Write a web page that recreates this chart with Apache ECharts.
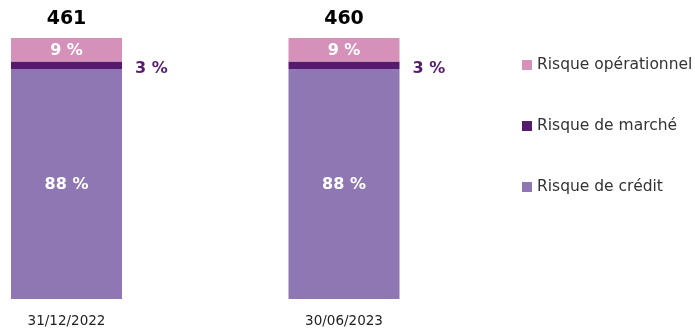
<!DOCTYPE html>
<html><head><meta charset="utf-8">
<script src="https://cdn.jsdelivr.net/npm/echarts@6/dist/echarts.min.js"></script>
<style>html,body{margin:0;padding:0;background:#fff}#c{width:695px;height:328px}</style>
</head><body><div id="c"></div>
<script>
const categories = ['31/12/2022', '30/06/2023'];
const totals = [461, 460];
const credit = [88, 88];
const marche = [3, 3];
const operationnel = [9, 9];

const FONT = 'DejaVu Sans';
const chart = echarts.init(document.getElementById('c'));
chart.setOption({
  animation: false,
  textStyle: { fontFamily: FONT },
  grid: { left: 66.5, right: 351, top: 38, bottom: 28, containLabel: false },
  xAxis: {
    type: 'category', data: categories, boundaryGap: false,
    axisLine: { show: false }, axisTick: { show: false },
    axisLabel: { color: '#222', fontSize: 13.5, margin: 15, fontFamily: FONT }
  },
  yAxis: { type: 'value', min: 0, max: 100, show: false, splitLine: { show: false } },
  legend: {
    orient: 'vertical', left: 517, top: 52, itemWidth: 10, itemHeight: 10, itemGap: 45,
    icon: 'rect', data: ['Risque opérationnel', 'Risque de marché', 'Risque de crédit'],
    textStyle: { color: '#333', fontSize: 15.5, fontFamily: FONT }
  },
  series: [
    { name: 'Risque de crédit', type: 'bar', stack: 't', barWidth: 111, data: credit,
      itemStyle: { color: '#8F77B3' },
      label: { show: true, position: 'inside', offset: [0, 1], color: '#fff', fontWeight: 'bold', fontSize: 16, formatter: p => p.value + ' %' } },
    { name: 'Risque de marché', type: 'bar', stack: 't', barWidth: 111, data: marche,
      itemStyle: { color: '#561A6E' },
      label: { show: true, position: 'right', distance: 13, offset: [0, 3], color: '#561A6E', fontWeight: 'bold', fontSize: 16, formatter: p => p.value + ' %' } },
    { name: 'Risque opérationnel', type: 'bar', stack: 't', barWidth: 111, data: operationnel,
      itemStyle: { color: '#D591B9' },
      label: { show: true, position: 'inside', offset: [0, 1], color: '#fff', fontWeight: 'bold', fontSize: 16, formatter: p => p.value + ' %' } },
    { name: 'total', type: 'bar', stack: 't', barWidth: 111, data: totals.map(() => 0),
      itemStyle: { color: 'transparent' },
      label: { show: true, position: 'top', distance: 9, color: '#000', fontWeight: 'bold', fontSize: 19,
        formatter: p => String(totals[p.dataIndex]) } }
  ]
});
</script></body></html>
